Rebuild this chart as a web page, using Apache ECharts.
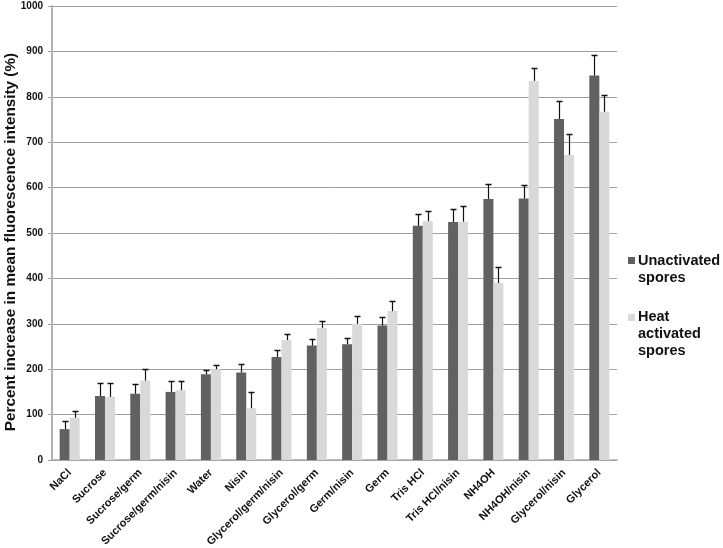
<!DOCTYPE html>
<html>
<head>
<meta charset="utf-8">
<script src="https://cdn.jsdelivr.net/npm/echarts@6/dist/echarts.min.js"></script>
<style>
html,body{margin:0;padding:0;background:#fff;}
#main{width:723px;height:548px;}
</style>
</head>
<body>
<div id="main"></div>
<script>
var categories = ['NaCl','Sucrose','Sucrose/germ','Sucrose/germ/nisin','Water','Nisin','Glycerol/germ/nisin','Glycerol/germ','Germ/nisin','Germ','Tris HCl','Tris HCl/nisin','NH4OH','NH4OH/nisin','Glycerol/nisin','Glycerol'];
var unactivated = [68, 141, 146, 150, 189, 193, 227, 252, 255, 296, 516, 524, 575, 576, 751, 847];
var unactivatedErr = [17, 28, 21, 25, 10, 18, 16, 14, 14, 20, 25, 29, 32, 29, 40, 44];
var heatActivated = [93, 139, 175, 154, 200, 114, 264, 291, 300, 328, 526, 525, 390, 835, 672, 767];
var heatActivatedErr = [14, 30, 25, 19, 9, 36, 14, 15, 18, 23, 22, 35, 36, 28, 45, 38];
var yTicks = [0,100,200,300,400,500,600,700,800,900,1000];

var FONT = '"Liberation Sans", Arial, sans-serif';
var BAR_W = 10;

function errData(vals, errs){
  return vals.map(function(v,i){ return [i, v, v + errs[i]]; });
}
function errRender(offset){
  return function(params, api){
    var i = api.value(0);
    var base = api.coord([i, api.value(1)]);
    var top = api.coord([i, api.value(2)]);
    var x = Math.round(base[0] + offset) + 0.5;
    var yb = base[1], yt = Math.round(top[1]) + 0.5;
    return {
      type: 'group',
      children: [
        {type:'line', shape:{x1:x, y1:yb, x2:x, y2:yt}, style:{stroke:'#111', lineWidth:1.2}},
        {type:'line', shape:{x1:x-3, y1:yt, x2:x+3, y2:yt}, style:{stroke:'#111', lineWidth:1.5}}
      ]
    };
  };
}

var chart = echarts.init(document.getElementById('main'), null, {renderer:'canvas'});
chart.setOption({
  backgroundColor: '#ffffff',
  animation: false,
  grid: {left: 52, right: 106, top: 6, bottom: 88, containLabel: false, outerBoundsMode: 'none'},
  xAxis: {
    type: 'category',
    data: categories,
    axisLine: {lineStyle: {color: '#a8a8a8', width: 1.5}},
    axisTick: {show: false},
    axisLabel: {
      interval: 0, rotate: 45, margin: 11,
      fontFamily: FONT, fontWeight: 'bold', fontSize: 11, color: '#111'
    }
  },
  yAxis: {
    type: 'value',
    min: 0, max: 1000, interval: 100,
    name: 'Percent increase in mean fluorescence intensity (%)',
    nameLocation: 'middle',
    nameGap: 34,
    nameMoveOverlap: false,
    nameTextStyle: {fontFamily: FONT, fontWeight: 'bold', fontSize: 15.3, color: '#111', padding: [0, 18, 0, 0]},
    axisLine: {show: true, lineStyle: {color: '#b4b4b4', width: 2}},
    axisTick: {show: true, length: 4, lineStyle: {color: '#a0a0a0'}},
    axisLabel: {
      margin: 9, fontFamily: FONT, fontWeight: 'bold', fontSize: 10, color: '#111',
      formatter: function(v){ return yTicks.indexOf(v) >= 0 ? String(v) : ''; }
    },
    splitLine: {show: true, lineStyle: {color: '#a0a0a0', width: 1}}
  },
  series: [
    {
      name: 'Unactivated spores', type: 'bar', data: unactivated,
      barWidth: BAR_W, barGap: '0%',
      itemStyle: {color: '#616161'}
    },
    {
      name: 'Heat activated spores', type: 'bar', data: heatActivated,
      barWidth: BAR_W, barGap: '0%',
      itemStyle: {color: '#d9d9d9'}
    },
    {
      type: 'custom', name: 'errU', data: errData(unactivated, unactivatedErr),
      renderItem: errRender(-BAR_W/2), z: 5
    },
    {
      type: 'custom', name: 'errH', data: errData(heatActivated, heatActivatedErr),
      renderItem: errRender(BAR_W/2), z: 5
    }
  ],
  graphic: [
    {type:'rect', left: 628, top: 257, shape:{width:7, height:7}, style:{fill:'#616161'}},
    {type:'text', left: 638, top: 252.5, style:{text:'Unactivated\nspores', font:'bold 14.5px ' + FONT, fill:'#111', lineHeight:17}},
    {type:'rect', left: 628, top: 314, shape:{width:7, height:7}, style:{fill:'#d9d9d9'}},
    {type:'text', left: 638, top: 308.5, style:{text:'Heat\nactivated\nspores', font:'bold 14.5px ' + FONT, fill:'#111', lineHeight:17}}
  ]
});
</script>
</body>
</html>
